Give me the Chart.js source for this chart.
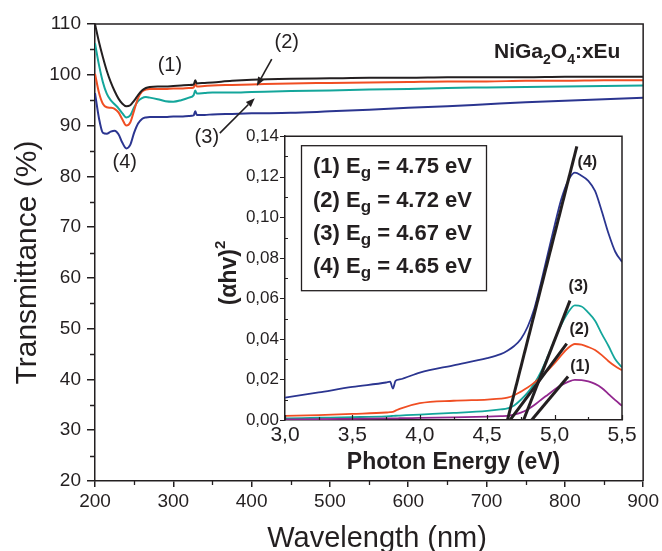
<!DOCTYPE html>
<html><head><meta charset="utf-8">
<script src="https://cdn.jsdelivr.net/npm/chart.js@4.4.0/dist/chart.umd.min.js"></script>
<style>
html,body{margin:0;padding:0;background:#fff;}
#wrap{position:relative;width:662px;height:551px;background:#fff;}
#main{position:absolute;left:0;top:0;}
#inset{position:absolute;left:200px;top:120px;}
</style></head><body>
<div id="wrap"><canvas id="main" width="662" height="551"></canvas><canvas id="inset" width="450" height="360"></canvas></div>
<script>
const FONT = "'Liberation Sans', Arial, Helvetica, sans-serif";
const INK = '#231f20';
const C1 = '#231f20', C2 = '#f04e23', C3 = '#14a69b', C4 = '#2b3590', C1i = '#92278f';

// ---- main chart: transmittance vs wavelength ----
const wavelength = [200,205,210,215,220,225,230,235,240,245,250,255,260,265,270,280,290,300,310,320,326,328,330,340,350,375,400,450,500,550,600,650,700,750,800,850,900];
const trans1 = [110.0,106.5,103.5,100.8,98.6,96.8,95.3,94.3,93.8,94.0,94.9,96.0,96.9,97.4,97.6,97.7,97.7,97.8,97.9,98.0,98.1,98.9,98.3,98.4,98.5,98.8,99.0,99.2,99.3,99.4,99.4,99.5,99.5,99.5,99.6,99.6,99.6];
const trans2 = [100.2,96.5,94.3,93.6,93.5,93.3,92.6,91.2,90.0,90.6,93.0,95.4,96.7,97.1,97.2,97.2,97.2,97.3,97.3,97.4,97.5,98.2,97.7,97.8,97.9,98.0,98.1,98.3,98.4,98.5,98.6,98.7,98.7,98.8,98.8,98.9,98.9];
const trans3 = [106.2,102.0,98.6,96.3,95.0,94.2,93.4,92.4,91.6,92.0,93.6,94.8,95.4,95.6,95.5,95.2,94.8,94.7,95.0,95.5,96.0,96.9,96.3,96.4,96.5,96.5,96.6,96.8,96.9,97.1,97.2,97.4,97.5,97.6,97.7,97.8,97.9];
const trans4 = [96.4,91.5,88.6,88.4,88.8,89.0,88.3,86.6,85.5,86.2,88.6,90.4,91.3,91.6,91.7,91.7,91.7,91.8,91.8,91.9,92.0,92.8,92.1,92.1,92.2,92.3,92.4,92.5,92.8,93.1,93.5,93.8,94.2,94.6,94.9,95.2,95.5];
const mainSeriesLabels = ['(1)','(2)','(3)','(4)'];
const mainLabelX = [295.6, 444.9, 342.8, 238];
const mainLabelY = [101.9, 106.3, 87.7, 82.8];
const arrowFromX = [425.7, 359.4], arrowFromY = [103.1, 88.5];
const arrowToX = [406.6, 404.0], arrowToY = [97.8, 95.4];
const xTitle = 'Wavelength (nm)', yTitle = 'Transmittance (%)';

// ---- inset: (alpha h nu)^2 vs photon energy ----
const energy = [3.0,3.25,3.5,3.75,3.78,3.8,3.82,3.85,4.0,4.25,4.5,4.6,4.65,4.7,4.75,4.8,4.85,4.9,4.95,5.0,5.05,5.1,5.15,5.2,5.25,5.3,5.35,5.4,5.45,5.5];
const ahv1 = [0.0003,0.0004,0.0006,0.0008,0.0008,0.0008,0.0008,0.0009,0.0010,0.0013,0.0017,0.0019,0.0020,0.0026,0.0036,0.0052,0.0074,0.0100,0.0125,0.0150,0.0172,0.0188,0.0198,0.0197,0.0190,0.0178,0.0158,0.0128,0.0098,0.0070];
const ahv2 = [0.0020,0.0024,0.0030,0.0037,0.0039,0.0040,0.0046,0.0055,0.0083,0.0095,0.0101,0.0105,0.0110,0.0122,0.0140,0.0160,0.0185,0.0212,0.0245,0.0280,0.0320,0.0355,0.0375,0.0372,0.0360,0.0345,0.0320,0.0290,0.0265,0.0245];
const ahv3 = [0.0008,0.0011,0.0014,0.0018,0.0019,0.0020,0.0021,0.0022,0.0027,0.0035,0.0045,0.0052,0.0057,0.0072,0.0100,0.0135,0.0180,0.0240,0.0315,0.0395,0.0470,0.0530,0.0565,0.0560,0.0530,0.0490,0.0425,0.0365,0.0300,0.0260];
const ahv4 = [0.0110,0.0136,0.0163,0.0185,0.0189,0.0155,0.0193,0.0200,0.0234,0.0270,0.0305,0.0325,0.0342,0.0365,0.0400,0.0460,0.0550,0.0680,0.0820,0.0960,0.1090,0.1180,0.1220,0.1205,0.1180,0.1130,0.1030,0.0920,0.0830,0.0780];
const tanX1 = [4.83, 5.10], tanY1 = [0, 0.0215];
const tanX2 = [4.67, 5.09], tanY2 = [0, 0.0377];
const tanX3 = [4.77, 5.114], tanY3 = [0, 0.0589];
const tanX4 = [4.65, 5.165], tanY4 = [0, 0.135];
const insetLabelX = [5.188, 5.183, 5.176, 5.243];
const insetLabelY = [0.0263, 0.0447, 0.0659, 0.127];
const gapLabels = ['(1)','(2)','(3)','(4)'];
const gapValues = ['4.75','4.72','4.67','4.65'];

const pts = (xs, ys) => xs.map((x, i) => ({x, y: ys[i]}));
const f = (size, weight, lh) => ({family: FONT, size, weight: weight || 'normal', lineHeight: lh || 1.2});

function line(data, color, w) {
  return {data, borderColor: color, borderWidth: w, pointRadius: 0, fill: false, cubicInterpolationMode: 'monotone'};
}

const mainPlugin = {
  id: 'mainExtras',
  afterDraw(chart) {
    const {ctx, chartArea: a, scales: {x, y}} = chart;
    ctx.save();
    ctx.strokeStyle = INK; ctx.lineWidth = 1.5;
    ctx.beginPath();
    ctx.moveTo(a.left, a.top); ctx.lineTo(a.right, a.top); ctx.lineTo(a.right, a.bottom);
    ctx.stroke();
    // minor ticks
    ctx.lineWidth = 1.3;
    ctx.beginPath();
    for (let v = 25; v < 110; v += 10) { const py = Math.round(y.getPixelForValue(v)) + 0.5; ctx.moveTo(a.left - 5, py); ctx.lineTo(a.left, py); }
    for (let v = 250; v < 900; v += 100) { const px = Math.round(x.getPixelForValue(v)) + 0.5; ctx.moveTo(px, a.bottom); ctx.lineTo(px, a.bottom + 4); }
    ctx.stroke();
    // axis titles
    ctx.fillStyle = INK;
    ctx.textAlign = 'center'; ctx.textBaseline = 'middle';
    ctx.font = '29px ' + FONT;
    ctx.fillText(xTitle, (a.left + a.right) / 2 + 8, a.bottom + 58);
    ctx.save();
    ctx.translate(28, (a.top + a.bottom) / 2 + 10);
    ctx.rotate(-Math.PI / 2);
    ctx.font = '30px ' + FONT;
    ctx.fillText(yTitle, 0, 0);
    ctx.restore();
    // labels
    ctx.font = '20px ' + FONT;
    mainSeriesLabels.forEach((t, i) => ctx.fillText(t, x.getPixelForValue(mainLabelX[i]), y.getPixelForValue(mainLabelY[i])));
    // arrows
    ctx.lineWidth = 1.6; ctx.strokeStyle = INK;
    for (let i = 0; i < arrowFromX.length; i++) {
      const x0 = x.getPixelForValue(arrowFromX[i]), y0 = y.getPixelForValue(arrowFromY[i]);
      const x1 = x.getPixelForValue(arrowToX[i]), y1 = y.getPixelForValue(arrowToY[i]);
      const ang = Math.atan2(y1 - y0, x1 - x0), L = 9, W = 3.5;
      const bx = x1 - L * Math.cos(ang), by = y1 - L * Math.sin(ang);
      ctx.beginPath(); ctx.moveTo(x0, y0); ctx.lineTo(bx, by); ctx.stroke();
      ctx.beginPath(); ctx.moveTo(x1, y1);
      ctx.lineTo(bx + W * Math.sin(ang), by - W * Math.cos(ang));
      ctx.lineTo(bx - W * Math.sin(ang), by + W * Math.cos(ang));
      ctx.closePath(); ctx.fill();
    }
    // compound name with subscripts
    ctx.textAlign = 'left'; ctx.textBaseline = 'alphabetic';
    let tx = 494; const by0 = 58;
    const parts = [['NiGa', 0], ['2', 1], ['O', 0], ['4', 1], [':xEu', 0]];
    parts.forEach(([s, sub]) => {
      ctx.font = sub ? 'bold 14px ' + FONT : 'bold 21px ' + FONT;
      ctx.fillText(s, tx, sub ? by0 + 6 : by0);
      tx += ctx.measureText(s).width;
    });
    ctx.restore();
  }
};

new Chart(document.getElementById('main'), {
  type: 'line',
  data: {datasets: [
    line(pts(wavelength, trans1), C1, 2),
    line(pts(wavelength, trans2), C2, 2),
    line(pts(wavelength, trans3), C3, 2),
    line(pts(wavelength, trans4), C4, 2)
  ]},
  options: {
    responsive: false, animation: false, devicePixelRatio: 1,
    layout: {padding: {left: 0, top: 24, right: 18, bottom: 0}},
    plugins: {legend: {display: false}, tooltip: {enabled: false}},
    scales: {
      x: {type: 'linear', min: 200, max: 900,
        afterFit(s) { s.height = 70; },
        ticks: {stepSize: 100, autoSkip: false, maxRotation: 0, font: f(19), color: INK, padding: 3},
        grid: {display: true, drawOnChartArea: false, drawTicks: true, tickLength: 6, color: INK, lineWidth: 1.5},
        border: {display: true, color: INK, width: 1.5}
      },
      y: {type: 'linear', min: 20, max: 110,
        afterFit(s) { s.width = 95; },
        ticks: {stepSize: 10, autoSkip: false, font: f(19), color: INK, padding: 6},
        grid: {display: true, drawOnChartArea: false, drawTicks: true, tickLength: 8, color: INK, lineWidth: 1.5},
        border: {display: true, color: INK, width: 1.5}
      }
    }
  },
  plugins: [mainPlugin]
});

const insetPlugin = {
  id: 'insetExtras',
  afterDraw(chart) {
    const {ctx, chartArea: a, scales: {x, y}} = chart;
    ctx.save();
    ctx.strokeStyle = INK; ctx.lineWidth = 1.5;
    ctx.beginPath();
    ctx.moveTo(a.left, a.top); ctx.lineTo(a.right, a.top); ctx.lineTo(a.right, a.bottom);
    ctx.stroke();
    ctx.lineWidth = 1.2;
    ctx.beginPath();
    for (let v = 3.0; v <= 5.501; v += 0.25) {
      const px = Math.round(x.getPixelForValue(v)) + 0.5;
      const major = Math.abs(v * 2 - Math.round(v * 2)) < 1e-6;
      ctx.moveTo(px, a.bottom); ctx.lineTo(px, a.bottom - (major ? 5 : 3));
    }
    for (let k = 0; k <= 14; k++) {
      const py = Math.round(y.getPixelForValue(k / 100)) + 0.5;
      if (k % 2 === 0) { ctx.moveTo(a.left - 5, py); ctx.lineTo(a.left, py); }
      else { ctx.moveTo(a.left, py); ctx.lineTo(a.left + 3, py); }
    }
    ctx.stroke();
    // y title (alpha h nu)^2, rotated
    ctx.fillStyle = INK;
    ctx.save();
    ctx.translate(30, 153);
    ctx.rotate(-Math.PI / 2);
    ctx.font = 'bold 23px ' + FONT;
    const main = '(\u03b1hv)';
    const wMain = ctx.measureText(main).width;
    ctx.font = 'bold 15px ' + FONT;
    const wSup = ctx.measureText('2').width;
    const start = -(wMain + wSup) / 2;
    ctx.textBaseline = 'middle'; ctx.textAlign = 'left';
    ctx.font = 'bold 23px ' + FONT;
    ctx.fillText(main, start, 0);
    ctx.font = 'bold 15px ' + FONT;
    ctx.fillText('2', start + wMain, -9);
    ctx.restore();
    // curve labels
    ctx.font = 'bold 16px ' + FONT;
    ctx.textAlign = 'center'; ctx.textBaseline = 'middle';
    gapLabels.forEach((t, i) => ctx.fillText(t, x.getPixelForValue(insetLabelX[i]), y.getPixelForValue(insetLabelY[i])));
    // legend box
    const bx = a.left + 16, by = a.top + 9;
    ctx.lineWidth = 1.3;
    ctx.strokeRect(bx + 0.5, by + 0.5, 185, 145);
    ctx.textAlign = 'left'; ctx.textBaseline = 'alphabetic';
    gapLabels.forEach((t, i) => {
      const base = by + 28 + i * 33.3;
      let tx = bx + 12;
      ctx.font = 'bold 22px ' + FONT;
      const s1 = t + ' E';
      ctx.fillText(s1, tx, base); tx += ctx.measureText(s1).width;
      ctx.font = 'bold 17px ' + FONT;
      ctx.fillText('g', tx, base + 5); tx += ctx.measureText('g').width;
      ctx.font = 'bold 22px ' + FONT;
      ctx.fillText(' = ' + gapValues[i] + ' eV', tx, base);
    });
    ctx.restore();
  }
};

new Chart(document.getElementById('inset'), {
  type: 'line',
  data: {datasets: [
    line(pts(tanX4, tanY4), INK, 3),
    line(pts(tanX3, tanY3), INK, 3),
    line(pts(tanX2, tanY2), INK, 3),
    line(pts(tanX1, tanY1), INK, 3),
    line(pts(energy, ahv1), C1i, 1.8),
    line(pts(energy, ahv2), C2, 1.8),
    line(pts(energy, ahv3), C3, 1.8),
    line(pts(energy, ahv4), C4, 1.8)
  ]},
  options: {
    responsive: false, animation: false, devicePixelRatio: 1,
    layout: {padding: {left: 0, top: 13, right: 28, bottom: 0}},
    plugins: {legend: {display: false}, tooltip: {enabled: false}},
    scales: {
      x: {type: 'linear', min: 3, max: 5.5,
        afterFit(s) { s.height = 60; },
        ticks: {stepSize: 0.5, autoSkip: false, maxRotation: 0, font: f(21), color: INK, padding: 3,
          callback: v => v.toFixed(1).replace('.', ',')},
        grid: {display: false, drawTicks: false},
        border: {display: true, color: INK, width: 1.5},
        title: {display: true, text: 'Photon Energy (eV)', font: f(23, 'bold'), color: INK, padding: {top: 0, bottom: 4}}
      },
      y: {type: 'linear', min: 0, max: 0.14,
        afterFit(s) { s.width = 85; },
        ticks: {stepSize: 0.02, autoSkip: false, font: f(17), color: INK, padding: 6,
          callback: v => v.toFixed(2).replace('.', ',')},
        grid: {display: false, drawTicks: false},
        border: {display: true, color: INK, width: 1.5}
      }
    }
  },
  plugins: [insetPlugin]
});
</script>
</body></html>
